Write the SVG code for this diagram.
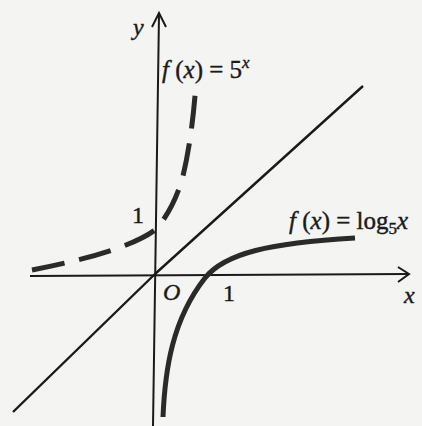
<svg xmlns="http://www.w3.org/2000/svg" width="422" height="426" viewBox="0 0 422 426">
<style>
.ax{stroke:#1a1a1a;stroke-width:2;fill:none}
.ln{stroke:#1a1a1a;stroke-width:2.4;fill:none;stroke-linejoin:round}
.cv{stroke:#2a2a2a;stroke-width:5;fill:none;stroke-linecap:butt}
.t{font-family:"Liberation Serif",serif;fill:#1a1a1a;stroke:#1a1a1a;stroke-width:0.4}
.i{font-style:italic}
</style>
<rect width="422" height="426" fill="#f4f4f3"/>
<g id="connectors">
<path class="ax" d="M30,276 L408,274"/>
<path class="ax" d="M398,267 L409,274 L398,282"/>
<path class="ax" d="M159,14 L153,426"/>
<path class="ax" d="M152,27 L159,13 L166,27"/>
</g>
<g id="identity-line">
<path class="ln" d="M13,412 L155,274 L363,86"/>
</g>
<g id="exp-curve">
<path class="cv" d="M32,270 Q125,252 155,230 Q172,212 182,180 Q192,140 196,83" stroke-dasharray="33,15"/>
</g>
<g id="log-curve">
<path class="cv" d="M163,417 C165,370 172,320 205,278 C225,253 270,243 355,238"/>
</g>
<g id="labels">
<text class="t i" x="133" y="35" font-size="24">y</text>
<text class="t" x="162" y="78" font-size="25"><tspan class="i">f</tspan> (<tspan class="i">x</tspan>) = 5<tspan class="i" dy="-10" font-size="17">x</tspan></text>
<text class="t" x="132" y="223" font-size="24">1</text>
<text class="t" x="289" y="229" font-size="25"><tspan class="i">f</tspan> (<tspan class="i">x</tspan>) = log<tspan dy="5" font-size="17">5</tspan><tspan class="i" dy="-5">x</tspan></text>
<text class="t i" x="163" y="300" font-size="24">O</text>
<text class="t" x="223" y="301" font-size="24">1</text>
<text class="t i" x="404" y="303" font-size="24">x</text>
</g>
</svg>
